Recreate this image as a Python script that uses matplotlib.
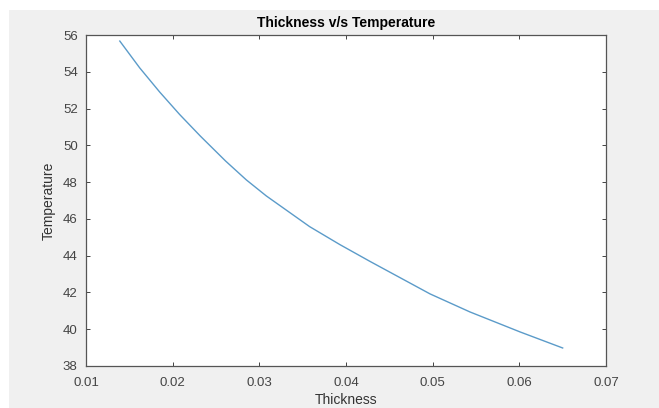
import matplotlib.pyplot as plt
from matplotlib.patches import Rectangle

plt.rcParams["font.family"] = ["Liberation Sans", "DejaVu Sans"]

thickness = [0.0139, 0.0162, 0.0185, 0.0208, 0.0232, 0.0261, 0.0285,
             0.0308, 0.0358, 0.0393, 0.0428, 0.0497, 0.0543, 0.0601, 0.0650]
temperature = [55.67, 54.21, 52.90, 51.68, 50.50, 49.15, 48.12,
               47.25, 45.58, 44.60, 43.68, 41.92, 40.94, 39.85, 38.98]

x_ticks = [0.01, 0.02, 0.03, 0.04, 0.05, 0.06, 0.07]
y_ticks = [38, 40, 42, 44, 46, 48, 50, 52, 54, 56]

W, H = 659, 408
fig = plt.figure(figsize=(W / 100, H / 100), dpi=100, facecolor="white")
fig.patches.append(Rectangle((9 / W, 0), 1 - 9 / W, 1 - 10 / H,
                             transform=fig.transFigure, facecolor="#f0f0f0",
                             edgecolor="none", zorder=-10))

ax = fig.add_axes([86 / W, 1 - 366 / H, (606 - 86) / W, (366 - 35) / H])
ax.set_facecolor("white")
ax.plot(thickness, temperature, color="#5b9bc9", linewidth=1.0)

ax.set_xlim(0.01, 0.07)
ax.set_ylim(38, 56)
ax.set_xticks(x_ticks)
ax.set_xticklabels(["0.01", "0.02", "0.03", "0.04", "0.05", "0.06", "0.07"])
ax.set_yticks(y_ticks)

ax.tick_params(direction="in", length=3, width=0.7, colors="#444444",
               labelcolor="#444444", labelsize=9.5, top=True, right=True)
ax.tick_params(axis="x", pad=8)
ax.tick_params(axis="y", pad=6)
for s in ax.spines.values():
    s.set_color("#555555")
    s.set_linewidth(0.9)

ax.set_title("Thickness v/s Temperature", fontsize=10, fontweight="bold",
             pad=6)
ax.set_xlabel("Thickness", fontsize=10, color="#333333", labelpad=3)
ax.set_ylabel("Temperature", fontsize=10, color="#333333", labelpad=5)

fig.savefig("out.png", dpi=100)
